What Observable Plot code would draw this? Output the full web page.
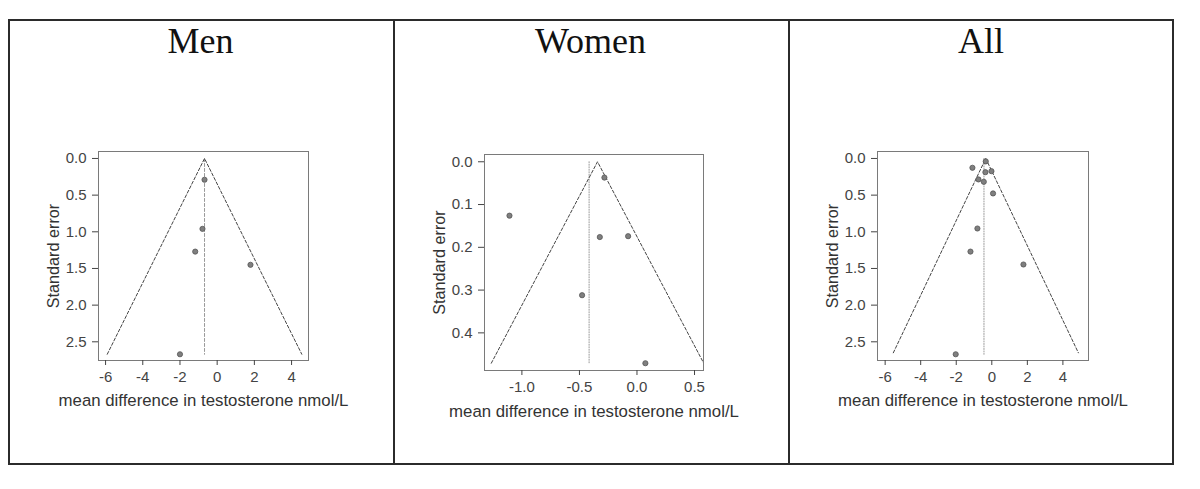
<!DOCTYPE html>
<html>
<head>
<meta charset="utf-8">
<script src="https://cdn.jsdelivr.net/npm/d3@7"></script>
<script src="https://cdn.jsdelivr.net/npm/@observablehq/plot@0.6"></script>
<style>
  html, body { margin: 0; padding: 0; background: #fff; }
  #wrap { position: relative; width: 1200px; height: 489px; background: #fff; overflow: hidden; }
  .border { position: absolute; box-sizing: border-box; border: 2px solid #2b2b2b; }
  .vline { position: absolute; width: 2px; background: #2b2b2b; }
  .title { position: absolute; text-align: center; font-family: "Liberation Serif", "DejaVu Serif", serif; font-size: 36px; line-height: 36px; color: #111; }
  .panel { position: absolute; }
</style>
</head>
<body>
<div id="wrap">
  <div class="border" style="left:8px;top:19px;width:1166px;height:446px;"></div>
  <div class="vline" style="left:393px;top:19px;height:446px;"></div>
  <div class="vline" style="left:788px;top:19px;height:446px;"></div>
</div>
<script>
// ---- Data ----
const panelTitles = ["Men", "Women", "All"];
const xLabel = "mean difference in testosterone nmol/L";
const yLabel = "Standard error";

// Men
const menX  = [-0.68, -0.79, -1.18, 1.79, -2.00];
const menSE = [0.29, 0.96, 1.27, 1.45, 2.67];
const menFunnelX  = [-5.91, -0.68, 4.55];
const menFunnelSE = [2.67, 0, 2.67];
const menRefX  = [-0.68, -0.68];
const menRefSE = [0, 2.67];
const menXTicks = [-6, -4, -2, 0, 2, 4];
const menYTicks = [0, 0.5, 1, 1.5, 2, 2.5];

// Women
const womenX  = [-1.108, -0.283, -0.323, -0.077, -0.477, 0.073];
const womenSE = [0.126, 0.037, 0.176, 0.174, 0.312, 0.471];
const womenFunnelX  = [-1.266, -0.343, 0.580];
const womenFunnelSE = [0.471, 0, 0.471];
const womenRefX  = [-0.416, -0.416];
const womenRefSE = [0, 0.473];
const womenXTicks = [-1.0, -0.5, 0.0, 0.5];
const womenYTicks = [0, 0.1, 0.2, 0.3, 0.4];

// All
const allX  = [-0.34, -1.09, -0.36, -0.02, -0.75, -0.45, 0.07, -0.81, -1.20, 1.78, -2.03];
const allSE = [0.040, 0.127, 0.187, 0.173, 0.286, 0.318, 0.477, 0.955, 1.27, 1.446, 2.67];
const allFunnelX  = [-5.54, -0.34, 4.87];
const allFunnelSE = [2.65, 0, 2.65];
const allRefX  = [-0.44, -0.44];
const allRefSE = [0, 2.67];
const allXTicks = [-6, -4, -2, 0, 2, 4];
const allYTicks = [0, 0.5, 1, 1.5, 2, 2.5];

// ---- Layout (pixel boxes of each plot frame) ----
const panels = [
  { title: panelTitles[0], cell: [8, 393], box: [98, 151, 210, 209],
    xDomain: [-6.38, 4.91], yDomain: [2.755, -0.095],
    x: menX, se: menSE, fx: menFunnelX, fse: menFunnelSE, rx: menRefX, rse: menRefSE,
    xTicks: menXTicks, yTicks: menYTicks, xFmt: d => String(d), refDash: "3,2", xLabOff: 40 },
  { title: panelTitles[1], cell: [393, 788], box: [484, 154, 219, 216],
    xDomain: [-1.325, 0.578], yDomain: [0.488, -0.017],
    x: womenX, se: womenSE, fx: womenFunnelX, fse: womenFunnelSE, rx: womenRefX, rse: womenRefSE,
    xTicks: womenXTicks, yTicks: womenYTicks, xFmt: d => d.toFixed(1), refDash: "1,1.5", xLabOff: 41 },
  { title: panelTitles[2], cell: [788, 1174], box: [877, 151, 211, 209],
    xDomain: [-6.43, 5.44], yDomain: [2.755, -0.095],
    x: allX, se: allSE, fx: allFunnelX, fse: allFunnelSE, rx: allRefX, rse: allRefSE,
    xTicks: allXTicks, yTicks: allYTicks, xFmt: d => String(d), refDash: "1,1.5", xLabOff: 40 }
];

const wrap = document.getElementById("wrap");
const mL = 80, mR = 20, mT = 10, mB = 60;

for (const p of panels) {
  // Title
  const t = document.createElement("div");
  t.className = "title";
  t.style.left = p.cell[0] + "px";
  t.style.width = (p.cell[1] - p.cell[0]) + "px";
  t.style.top = "23px";
  t.textContent = p.title;
  wrap.appendChild(t);

  const pts = p.x.map((v, i) => ({ x: v, se: p.se[i] }));
  const funnel = p.fx.map((v, i) => ({ x: v, se: p.fse[i] }));
  const ref = p.rx.map((v, i) => ({ x: v, se: p.rse[i] }));

  const [bl, bt, bw, bh] = p.box;
  const chart = Plot.plot({
    width: bw + mL + mR,
    height: bh + mT + mB,
    marginLeft: mL, marginRight: mR, marginTop: mT, marginBottom: mB,
    style: { fontFamily: "'Liberation Sans', Arial, sans-serif", fontSize: "15px", color: "#333", background: "transparent", overflow: "visible" },
    x: { domain: p.xDomain, label: null },
    y: { domain: p.yDomain, label: null },
    marks: [
      Plot.line(ref, { x: "x", y: "se", stroke: "#999", strokeWidth: 1, strokeDasharray: p.refDash }),
      Plot.line(funnel, { x: "x", y: "se", stroke: "#444", strokeWidth: 1, strokeDasharray: "3,2", clip: true }),
      Plot.dot(pts, { x: "x", y: "se", r: 2.6, fill: "#7f7f7f", stroke: "#555", strokeWidth: 0.8 }),
      Plot.frame({ stroke: "#7a7a7a", strokeWidth: 1 }),
      Plot.axisX({ ticks: p.xTicks, tickFormat: p.xFmt, tickSize: 5, tickPadding: 6, fontSize: 15, color: "#444", label: null }),
      Plot.axisY({ ticks: p.yTicks, tickFormat: d => d.toFixed(1), tickSize: 6, tickPadding: 6, fontSize: 15, color: "#444", label: null }),
      Plot.text([xLabel], { frameAnchor: "bottom", dy: p.xLabOff, text: d => d, fontSize: 16.8, fill: "#333", lineAnchor: "middle", textAnchor: "middle" }),
      Plot.text([yLabel], { frameAnchor: "left", dx: -45, text: d => d, rotate: -90, fontSize: 16.2, fill: "#333", lineAnchor: "middle", textAnchor: "middle" })
    ]
  });
  const holder = document.createElement("div");
  holder.className = "panel";
  holder.style.left = (bl - mL) + "px";
  holder.style.top = (bt - mT) + "px";
  holder.appendChild(chart);
  wrap.appendChild(holder);
}
</script>
</body>
</html>
